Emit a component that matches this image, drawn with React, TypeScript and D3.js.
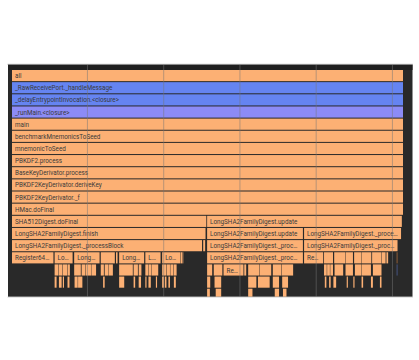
import React from "react";
import * as d3 from "d3";

// ---- data -------------------------------------------------------------
const TOTAL = 1000; // total sampled time of "all"

// full-width call stack (depth 0..11)
const stackFrames = [
  "all",
  "_RawReceivePort._handleMessage",
  "_delayEntrypointInvocation.<closure>",
  "_runMain.<closure>",
  "main",
  "benchmarkMnemonicsToSeed",
  "mnemonicToSeed",
  "PBKDF2.process",
  "BaseKeyDerivator.process",
  "PBKDF2KeyDerivator.deriveKey",
  "PBKDF2KeyDerivator._f",
  "HMac.doFinal",
];
const stackKinds = ["dart", "core", "core", "mixed", "dart", "dart", "dart", "dart", "dart", "dart", "dart", "dart"];

type Frame = [number, number, string];

const depth12: Frame[] = [
  [0, 497, "SHA512Digest.doFinal"],
  [499, 997, "LongSHA2FamilyDigest.update"],
];
const depth13: Frame[] = [
  [0, 495, "LongSHA2FamilyDigest.finish"],
  [499, 744, "LongSHA2FamilyDigest.update"],
  [747, 995, "LongSHA2FamilyDigest._processBlock"],
];
const depth14: Frame[] = [
  [0, 486, "LongSHA2FamilyDigest._processBlock"],
  [489, 494, "LongSHA2FamilyDigest._processLength"],
  [499, 744, "LongSHA2FamilyDigest._processBlock"],
  [747, 986, "LongSHA2FamilyDigest._processBlock"],
];
const depth15: Frame[] = [
  [0, 106, "Register64.sum"],
  [109, 155, "LongSHA2FamilyDigest._Sum1"],
  [159, 224, "LongSHA2FamilyDigest._Sigma1"],
  [227, 263, "LongSHA2FamilyDigest._Ch"],
  [266, 270, "Register64.set"],
  [274, 338, "LongSHA2FamilyDigest._Sum0"],
  [341, 380, "LongSHA2FamilyDigest._Maj"],
  [384, 431, "LongSHA2FamilyDigest._Sigma0"],
  [432, 435, "Register64.add"],
  [436, 438, "Register64.set"],
  [499, 744, "LongSHA2FamilyDigest._processBlock"],
  [747, 796, "Register64.sum"],
  [798, 821, "LongSHA2FamilyDigest._Sum1"],
  [824, 852, "LongSHA2FamilyDigest._Ch"],
  [853, 872, "LongSHA2FamilyDigest._Sum0"],
  [875, 894, "LongSHA2FamilyDigest._Maj"],
  [895, 919, "LongSHA2FamilyDigest._Sigma0"],
  [921, 945, "LongSHA2FamilyDigest._Sigma1"],
  [946, 954, "Register64.add"],
  [955, 958, "Register64.set"],
  [959, 962, "Register64.set"],
];
const depth16: Frame[] = [
  [109, 118, "Register64.rotr"],
  [119, 129, "Register64.rotr"],
  [130, 141, "Register64.xor"],
  [142, 148, "Register64.set"],
  [159, 176, "Register64.rotr"],
  [178, 188, "Register64.rotr"],
  [189, 202, "Register64.shiftr"],
  [203, 215, "Register64.xor"],
  [227, 235, "Register64.and"],
  [237, 247, "Register64.not"],
  [248, 258, "Register64.xor"],
  [274, 309, "Register64.rotr"],
  [311, 322, "Register64.rotr"],
  [324, 331, "Register64.xor"],
  [341, 348, "Register64.and"],
  [349, 357, "Register64.and"],
  [358, 374, "Register64.xor"],
  [384, 395, "Register64.rotr"],
  [396, 404, "Register64.rotr"],
  [405, 413, "Register64.shiftr"],
  [414, 421, "Register64.xor"],
  [499, 512, "Register64.set"],
  [516, 538, "Register64.add"],
  [541, 592, "Register64.sum"],
  [594, 599, "Register64.set"],
  [604, 632, "Register64.rotr"],
  [633, 663, "Register64.rotr"],
  [667, 689, "Register64.xor"],
  [690, 719, "Register64.and"],
  [798, 805, "Register64.rotr"],
  [806, 813, "Register64.rotr"],
  [814, 821, "Register64.xor"],
  [825, 847, "Register64.and"],
  [853, 872, "Register64.rotr"],
  [877, 894, "Register64.and"],
  [895, 918, "Register64.rotr"],
  [923, 945, "Register64.rotr"],
];
const depth17: Frame[] = [
  [109, 114, "Register64.set"],
  [120, 127, "Register64.set"],
  [130, 133, "Register64.set"],
  [142, 147, "Register64.set"],
  [160, 168, "Register64.set"],
  [169, 180, "Register64.shiftl"],
  [233, 237, "Register64.set"],
  [274, 287, "Register64.shiftl"],
  [311, 315, "Register64.set"],
  [324, 330, "Register64.set"],
  [341, 344, "Register64.set"],
  [349, 355, "Register64.set"],
  [368, 371, "Register64.set"],
  [384, 389, "Register64.set"],
  [391, 395, "Register64.set"],
  [400, 404, "Register64.set"],
  [414, 419, "Register64.set"],
  [499, 507, "Register64.set"],
  [518, 535, "Register64.set"],
  [604, 625, "Register64.shiftl"],
  [629, 659, "Register64.shiftl"],
  [667, 683, "Register64.set"],
  [691, 706, "Register64.set"],
  [800, 804, "Register64.set"],
  [811, 815, "Register64.set"],
  [822, 829, "Register64.set"],
  [856, 859, "Register64.set"],
  [873, 876, "Register64.set"],
  [894, 898, "Register64.set"],
  [918, 923, "Register64.set"],
  [941, 945, "Register64.set"],
];
const depth18: Frame[] = [
  [499, 506, "Register64.set"],
  [521, 535, "Register64.set"],
  [604, 615, "Register64.set"],
  [672, 683, "Register64.set"],
  [693, 702, "Register64.set"],
];
const deepRows: Frame[][] = [depth12, depth13, depth14, depth15, depth16, depth17, depth18];

// partly hidden frames at the right edge: [depth, start, end, name, kind]
const fadedFrames: [number, number, number, string, string][] = [
  [15, 983, 987, "Register64.set", "fadedDart"],
  [16, 983, 987, "Register64.set", "fadedCore"],
];

const gridStart = 193;
const gridStep = 195;

// ---- style ------------------------------------------------------------
const COLORS: Record<string, string> = {
  dart: "#fcb074",
  core: "#6584f1",
  mixed: "#8c8bf6",
  fadedDart: "#6a4a32",
  fadedCore: "#3b4460",
};
const FONT_SIZE = 6.3;
const FONT = "Roboto, sans-serif";
const ROW_TOP = 70;
const ROW_PITCH = 12.15;
const BAR_H = 11.15;
const TEXT_PAD_LEFT = 3;
const TEXT_PAD_TOTAL = 6;
const MIN_LABEL_W = 15;

function makeMeasurer() {
  const ctx = document.createElement("canvas").getContext("2d");
  if (ctx) ctx.font = `${FONT_SIZE}px Roboto`;
  return (s: string) => (ctx ? ctx.measureText(s).width : s.length * FONT_SIZE * 0.5);
}

export default function App() {
  const width = 419;
  const height = 360;
  const frameLeft = 8;
  const frameRight = 412.5;
  const frameTop = 64.5;
  const frameBottom = 296.8;

  const x = d3.scaleLinear().domain([0, TOTAL]).range([12, 403]);
  const y = d3.scaleLinear().domain([0, 1]).range([ROW_TOP, ROW_TOP + ROW_PITCH]);

  const measure = React.useMemo(() => makeMeasurer(), []);
  const fit = (label: string, maxW: number) => {
    if (measure(label) <= maxW) return label;
    for (let n = label.length - 1; n > 0; n--) {
      const s = label.slice(0, n) + "…";
      if (measure(s) <= maxW) return s;
    }
    return "";
  };

  type Node = { depth: number; start: number; end: number; name: string; kind: string };
  const nodes: Node[] = [];
  stackFrames.forEach((name, i) =>
    nodes.push({ depth: i, start: 0, end: TOTAL, name, kind: stackKinds[i] })
  );
  deepRows.forEach((row, i) =>
    row.forEach(([s, e, name]) => nodes.push({ depth: 12 + i, start: s, end: e, name, kind: "dart" }))
  );
  fadedFrames.forEach(([d, s, e, name, kind]) => nodes.push({ depth: d, start: s, end: e, name, kind }));

  const gridTimes = d3.range(gridStart, TOTAL, gridStep);

  return (
    <svg
      width={width}
      height={height}
      style={{ position: "absolute", left: 0, top: 0, background: "#ffffff" }}
    >
      <defs>
        <clipPath id="chartClip">
          <rect x={frameLeft} y={frameTop} width={frameRight - frameLeft} height={frameBottom - frameTop} />
        </clipPath>
      </defs>
      <rect x={frameLeft} y={frameTop} width={frameRight - frameLeft} height={frameBottom - frameTop} fill="#292929" />
      <rect x={frameLeft} y={frameTop} width={frameRight - frameLeft} height={ROW_TOP - frameTop} fill="#1f1f1f" />
      <g clipPath="url(#chartClip)">
        {nodes.map((n, i) => {
          const x0 = x(n.start);
          const w = x(n.end) - x0;
          const top = y(n.depth);
          const label =
            w >= MIN_LABEL_W && !n.kind.startsWith("faded") ? fit(n.name, w - TEXT_PAD_TOTAL) : "";
          return (
            <g key={i}>
              <rect x={x0} y={top} width={Math.max(w, 0.8)} height={BAR_H} fill={COLORS[n.kind]} />
              {label && (
                <text
                  x={x0 + TEXT_PAD_LEFT}
                  y={top + 8.1}
                  fontFamily={FONT}
                  fontSize={FONT_SIZE}
                  fill="#3a3a3a"
                >
                  {label}
                </text>
              )}
            </g>
          );
        })}
        {gridTimes.map((t, i) => (
          <line
            key={i}
            x1={x(t)}
            x2={x(t)}
            y1={frameTop}
            y2={frameBottom}
            stroke="rgba(120,120,120,0.5)"
            strokeWidth={1}
          />
        ))}
      </g>
      <line x1={frameLeft - 0.5} x2={frameRight + 0.5} y1={frameTop - 0.2} y2={frameTop - 0.2} stroke="#a8a8a8" strokeWidth={0.8} />
      <line x1={frameLeft - 0.5} x2={frameRight + 0.5} y1={frameBottom + 0.4} y2={frameBottom + 0.4} stroke="#cfcfcf" strokeWidth={0.8} />
    </svg>
  );
}
